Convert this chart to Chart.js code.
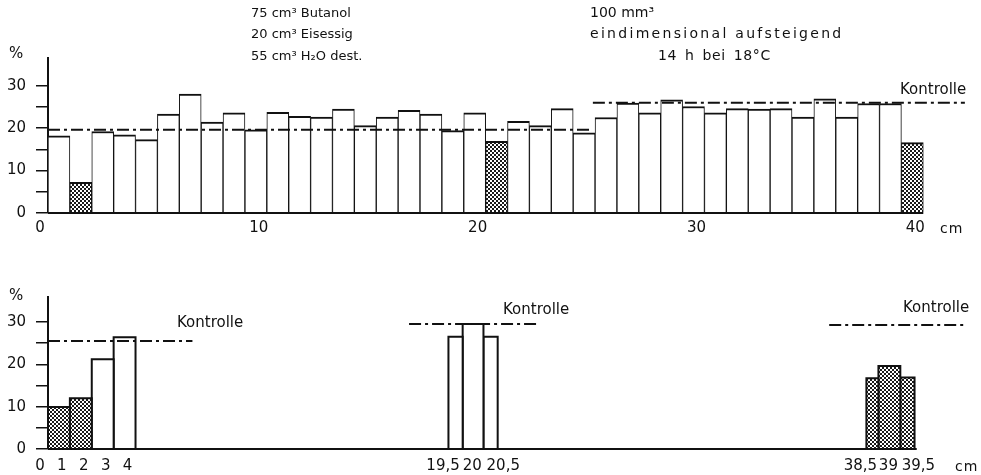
<!DOCTYPE html>
<html><head><meta charset="utf-8">
<script src="https://cdn.jsdelivr.net/npm/chart.js@4"></script>
<style>
html,body{margin:0;padding:0;background:#fff;}
#wrap{position:relative;width:981px;height:475px;overflow:hidden;font-family:'DejaVu Sans',sans-serif;color:#111;}
canvas{position:absolute;left:0;}
.t{position:absolute;white-space:nowrap;line-height:1;}
</style></head><body>
<div id="wrap">
<canvas id="topChart" width="981" height="245" style="top:0"></canvas>
<canvas id="botChart" width="981" height="230" style="top:245px"></canvas>
<div class="t" style="left:251px;top:6px;font-size:13px">75 cm³ Butanol</div>
<div class="t" style="left:251px;top:27px;font-size:13px">20 cm³ Eisessig</div>
<div class="t" style="left:251px;top:49px;font-size:13px">55 cm³ H₂O dest.</div>
<div class="t" style="left:590px;top:5px;font-size:14px">100 mm³</div>
<div class="t" style="left:590px;top:26px;font-size:14px;letter-spacing:2.3px">eindimensional aufsteigend</div>
<div class="t" style="left:658px;top:48px;font-size:14px;letter-spacing:0.6px;word-spacing:3px">14 h bei 18°C</div>
<div class="t" style="left:9px;top:46px;font-size:15px">%</div>
<div class="t" style="left:9px;top:288px;font-size:15px">%</div>
<div class="t" style="left:900px;top:82px;font-size:15px">Kontrolle</div>
<div class="t" style="left:177px;top:315px;font-size:15px">Kontrolle</div>
<div class="t" style="left:503px;top:302px;font-size:15px">Kontrolle</div>
<div class="t" style="left:903px;top:300px;font-size:15px">Kontrolle</div>
<div class="t" style="left:940px;top:221px;font-size:14px;letter-spacing:1px">cm</div>
<div class="t" style="left:955px;top:459px;font-size:14px;letter-spacing:1px">cm</div>
</div>
<script>
// ---------- data (upper panel: 40 sections of 1 cm, % of applied amount) ----------
const topValues = [18.2, 7.2, 19.2, 18.4, 17.3, 23.3, 28.0, 21.4, 23.6, 19.6,
                   23.7, 22.8, 22.6, 24.5, 20.6, 22.6, 24.2, 23.3, 19.4, 23.6,
                   16.9, 21.6, 20.6, 24.6, 18.9, 22.5, 25.9, 23.6, 26.7, 25.1,
                   23.6, 24.6, 24.5, 24.6, 22.6, 26.9, 22.6, 25.8, 25.8, 16.6];
const topShadedSections = [2, 21, 40];
const topTickValues = [0, 10, 20, 30, 40];
const kontrolleTopValues = [19.6, 26.0];
const kontrolleTopFrom = [0, 24.9];
const kontrolleTopTo = [24.9, 41.9];

// ---------- data (lower panel) ----------
const bottomTickLabels = ['0', '1', '2', '3', '4', '19,5', '20', '20,5', '38,5', '39', '39,5'];
const bottomValues = [9.9, 12.0, 21.2, 26.4, 26.5, 29.5, 26.5, 16.7, 19.6, 16.9];
const bottomFrom = [0, 1, 2, 3, 18.3, 18.95, 19.9, 37.4, 37.95, 38.95];
const bottomTo = [1, 2, 3, 4, 18.95, 19.9, 20.55, 37.95, 38.95, 39.6];
const bottomShaded = [true, true, false, false, false, false, false, true, true, true];
const kontrolleBottomValues = [25.5, 29.5, 29.3];
const kontrolleBottomFrom = [0, 16.5, 35.7];
const kontrolleBottomTo = [6.6, 22.4, 41.9];
const yTickValues = [0, 5, 10, 15, 20, 25, 30];

// ---------- layout ----------
const bottomTickPos = [0, 1, 2, 3, 4, 18.42, 19.75, 21.17, 37.49, 38.77, 40.14];
const INK = '#111';
const FONT = {family: "'DejaVu Sans', sans-serif", size: 15};
const DASH = [12, 4, 3, 4];

function makePattern() {
  const c = document.createElement('canvas');
  c.width = 4; c.height = 4;
  const g = c.getContext('2d');
  g.fillStyle = '#fff'; g.fillRect(0, 0, 4, 4);
  g.fillStyle = '#1a1a1a';
  g.fillRect(0, 0, 2, 2); g.fillRect(2, 2, 2, 2);
  return g.createPattern(c, 'repeat');
}
const dots = makePattern();

function yAxis(max) {
  return {
    type: 'linear', min: 0, max: max,
    afterBuildTicks: s => { s.ticks = yTickValues.map(v => ({value: v})); },
    afterFit: s => { s.width = 48; },
    ticks: {color: INK, font: FONT, padding: 10, autoSkip: false,
            callback: v => (v % 10 === 0 ? String(v) : '')},
    grid: {display: true, drawOnChartArea: false, drawTicks: true, tickLength: 12,
           color: INK, lineWidth: 1.5},
    border: {display: true, color: INK, width: 2}
  };
}
function xAxis(tickPos, labelFn, height, pad) {
  return {
    type: 'linear', min: 0, max: 42.5, offset: false,
    afterBuildTicks: s => { s.ticks = tickPos.map(v => ({value: v})); },
    afterFit: s => { s.height = height; },
    ticks: {color: INK, font: FONT, padding: pad, labelOffset: -8, autoSkip: false, maxRotation: 0,
            callback: labelFn},
    grid: {display: false, drawTicks: false, offset: false},
    border: {display: false}
  };
}
const common = {
  responsive: false, animation: false, devicePixelRatio: 1,
  plugins: {legend: {display: false}, tooltip: {enabled: false}}
};
function dashLine(v, a, b) {
  return {type: 'line', data: [{x: a, y: v}, {x: b, y: v}], borderColor: INK, borderWidth: 2,
          borderDash: DASH, pointRadius: 0, fill: false, order: 0, clip: false};
}
function baseLine(a, b) {
  return {type: 'line', data: [{x: a, y: 0}, {x: b, y: 0}], borderColor: INK, borderWidth: 2,
          pointRadius: 0, fill: false, order: 0, clip: false};
}

// ---------- upper chart ----------
const topDatasets = [{
  type: 'bar',
  data: topValues.map((v, i) => ({x: i + 0.5, y: v})),
  backgroundColor: topValues.map((v, i) => topShadedSections.includes(i + 1) ? dots : '#fff'),
  borderColor: INK,
  borderWidth: {top: 2, left: 1, right: 1, bottom: 0},
  borderSkipped: false,
  barPercentage: 1, categoryPercentage: 1, order: 1
}];
kontrolleTopValues.forEach((v, i) => topDatasets.push(dashLine(v, kontrolleTopFrom[i], kontrolleTopTo[i])));
topDatasets.push(baseLine(0, 40));

new Chart(document.getElementById('topChart'), {
  type: 'bar',
  data: {datasets: topDatasets},
  options: Object.assign({}, common, {
    layout: {padding: {top: 58, right: 3, left: 0, bottom: 0}},
    scales: {
      x: xAxis(topTickValues, v => String(v), 32, 6),
      y: yAxis(36.53)
    }
  })
});

// ---------- lower chart ----------
const botDatasets = [];
bottomValues.forEach((v, i) => {
  const a = bottomFrom[i], b = bottomTo[i];
  botDatasets.push({
    type: 'line',
    data: [{x: a, y: 0}, {x: a, y: v}, {x: b, y: v}, {x: b, y: 0}],
    borderColor: INK, borderWidth: 2, pointRadius: 0, tension: 0,
    backgroundColor: bottomShaded[i] ? dots : '#fff', fill: 'origin', order: 1
  });
});
kontrolleBottomValues.forEach((v, i) => botDatasets.push(dashLine(v, kontrolleBottomFrom[i], kontrolleBottomTo[i])));
botDatasets.push(baseLine(0, 39.7));

new Chart(document.getElementById('botChart'), {
  type: 'line',
  data: {datasets: botDatasets},
  options: Object.assign({}, common, {
    layout: {padding: {top: 52, right: 3, left: 0, bottom: 0}},
    scales: {
      x: xAxis(bottomTickPos, (v, idx) => bottomTickLabels[idx], 26, 8),
      y: yAxis(35.9)
    }
  })
});
</script>
</body></html>
